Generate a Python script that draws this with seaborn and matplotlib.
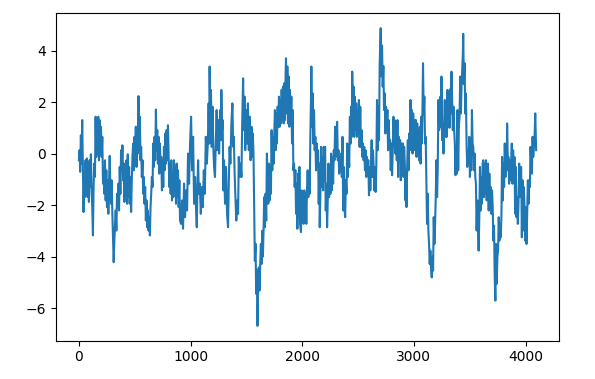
import matplotlib
matplotlib.use("Agg")
import matplotlib.pyplot as plt
import seaborn as sns
import pandas as pd

t = [0, 6, 12, 18, 24, 30, 36, 42, 48, 54, 60, 66, 72, 78, 84, 90, 96, 102, 108, 114,
     120, 126, 132, 138, 144, 150, 156, 162, 168, 174, 180, 186, 192, 198, 204, 210, 216, 222, 228, 234,
     240, 246, 252, 258, 264, 270, 276, 282, 288, 294, 300, 306, 312, 318, 324, 330, 336, 342, 348, 354,
     360, 366, 372, 378, 384, 390, 396, 402, 408, 414, 420, 426, 432, 438, 444, 450, 456, 462, 468, 474,
     480, 486, 492, 498, 504, 510, 516, 522, 528, 534, 540, 546, 552, 558, 564, 570, 576, 582, 588, 594,
     600, 606, 612, 618, 624, 630, 636, 642, 648, 654, 660, 666, 672, 678, 684, 690, 696, 702, 708, 714,
     720, 726, 732, 738, 744, 750, 756, 762, 768, 774, 780, 786, 792, 798, 804, 810, 816, 822, 828, 834,
     840, 846, 852, 858, 864, 870, 876, 882, 888, 894, 900, 906,
     915, 924, 933, 942, 951, 960, 969, 978, 987, 996, 1005, 1014, 1023, 1032, 1041, 1050, 1056, 1062, 1068, 1074,
     1083, 1092, 1101, 1110, 1119, 1128, 1137, 1146, 1155, 1162, 1168, 1171, 1177, 1183, 1190, 1197, 1204, 1211, 1219, 1226,
     1234, 1241, 1248, 1256, 1265, 1272, 1276, 1282, 1288, 1294, 1300, 1309, 1318, 1327, 1336, 1343, 1350, 1357, 1366, 1375,
     1382, 1388, 1394, 1402, 1410, 1418, 1426, 1432, 1440, 1448, 1456, 1462, 1471, 1477, 1484, 1490, 1498, 1506, 1514, 1522,
     1530, 1538, 1546, 1552, 1558, 1564, 1570, 1576, 1582, 1588, 1594, 1600, 1606, 1612, 1618, 1624, 1630, 1636, 1642, 1648,
     1654, 1660, 1666, 1672, 1678, 1684, 1690, 1696, 1702, 1708, 1714, 1720, 1726, 1732, 1738, 1744, 1750, 1756, 1762, 1768,
     1774, 1780, 1786, 1792, 1798, 1804, 1810, 1816, 1822, 1828, 1834, 1840, 1846, 1852, 1855, 1861, 1867, 1873, 1879, 1885,
     1891, 1897, 1903, 1909, 1915, 1921, 1927, 1933, 1939, 1945, 1951, 1957, 1963, 1969, 1975, 1981,
     1989, 1995, 2001, 2007, 2013, 2019, 2025, 2031, 2037, 2043, 2049, 2055, 2061, 2067, 2073, 2079, 2082, 2088, 2094, 2100,
     2106, 2112, 2118, 2124, 2130, 2136, 2142, 2148, 2154, 2157, 2163, 2169, 2175, 2181, 2187, 2193, 2199, 2205, 2211, 2217,
     2223, 2229, 2235, 2241, 2247, 2253, 2259, 2265, 2271, 2277, 2283, 2289, 2295, 2301, 2307, 2313, 2319, 2325, 2331, 2337,
     2343, 2349, 2355, 2361, 2367, 2373, 2379, 2385, 2391, 2397, 2403, 2409, 2415, 2421, 2427, 2433, 2439, 2445, 2448, 2454,
     2460, 2466, 2472, 2478, 2484, 2490, 2496, 2502, 2508, 2514, 2520, 2526, 2532, 2538, 2544, 2550, 2556, 2562, 2568, 2574,
     2580, 2586, 2592, 2598, 2604, 2610, 2616, 2622, 2628, 2634, 2640, 2646, 2652, 2658, 2664, 2670, 2676, 2682, 2688, 2694,
     2700, 2703, 2709, 2715, 2721, 2727, 2733, 2739, 2745, 2751, 2757, 2763, 2769, 2775, 2781, 2787, 2793, 2799, 2805, 2811,
     2817, 2823, 2829, 2835, 2841, 2847, 2853, 2859, 2865, 2871, 2877, 2883, 2889, 2895, 2901, 2907, 2913, 2919, 2925, 2931,
     2934, 2940, 2946, 2952, 2958, 2964, 2970, 2976, 2982, 2988, 2994, 3000, 3006, 3012, 3018, 3024, 3030, 3036, 3042, 3048,
     3054, 3060,
     3066, 3072, 3078, 3082, 3088, 3094, 3100, 3106, 3112, 3118, 3124, 3130, 3136, 3142, 3148, 3154, 3160, 3166, 3172, 3178,
     3184, 3190, 3196, 3202, 3208, 3214, 3220, 3226, 3232, 3238, 3244, 3247, 3253, 3259, 3265, 3271, 3277, 3283, 3289, 3295,
     3301, 3307, 3313, 3319, 3325, 3331, 3337, 3343, 3349, 3355, 3361, 3367, 3373, 3379, 3385, 3391, 3397, 3403, 3409, 3415,
     3421, 3427, 3433, 3439, 3442, 3448, 3454, 3460, 3466, 3472, 3478, 3484, 3490, 3496, 3502, 3508, 3514, 3520, 3526, 3532,
     3538, 3544, 3550, 3556, 3562, 3568, 3574, 3580, 3586, 3592, 3598, 3604, 3610, 3616, 3622, 3628, 3634, 3640, 3646, 3652,
     3658, 3664, 3670, 3676, 3682, 3688, 3694, 3700, 3706, 3712, 3718, 3724, 3730, 3736, 3742, 3748, 3754, 3760, 3766, 3772,
     3778, 3784, 3790, 3796, 3802, 3808, 3814, 3820, 3826, 3832, 3835, 3841, 3847, 3853, 3859, 3865, 3871, 3877, 3883, 3889,
     3895, 3901, 3907, 3913, 3919, 3925, 3931, 3937, 3943, 3949, 3955, 3961, 3967, 3973, 3979, 3985, 3991, 3997, 4003, 4009,
     4015, 4021, 4027, 4033, 4039, 4045, 4051, 4057, 4063, 4069, 4075, 4081, 4087, 4093, 4095]

v = [-0.26, 0.13, -0.71, 0.71, -0.39, 1.30, -0.52, -2.27, -0.91, -1.69, -0.26, -1.56, -0.19, -1.69, -0.39, -1.88, -0.26, -1.30, -0.03, -1.43,
     -2.08, -3.18, -1.30, -0.39, -0.91, 1.43, -0.13, 1.30, 0.00, 1.43, -0.26, 1.30, 0.00, 1.04, -0.13, 0.65, -1.17, -0.52, -1.56, -0.26,
     -1.82, -0.65, -2.08, -1.04, -2.34, -1.17, -0.09, -1.30, -1.95, -1.04, -2.34, -3.25, -4.22, -3.38, -2.73, -2.21, -2.99, -1.56, -2.08, -1.17,
     -2.21, -0.52, -1.56, 0.13, -0.65, 0.32, -1.04, -0.39, -1.88, -0.52, -1.43, -0.26, -1.95, -0.03, -1.69, -0.52, -1.95, -0.91, -2.27, -1.04,
     -0.13, 0.39, -0.65, 0.65, -0.26, 1.04, -0.52, 0.91, 0.00, 2.23, 0.13, 1.43, -0.26, 0.26, -0.91, -0.26, -1.56, -0.91, -1.95, -1.30,
     -2.60, -1.82, -2.86, -2.21, -2.99, -2.47, -3.18, -2.08, -1.56, -0.91, -1.30, 0.39, -0.52, 0.65, -0.26, 1.71, 0.13, 0.91, -0.39, 0.65,
     -0.78, 0.39, -0.52, -0.13, -1.43, -0.26, -1.30, 0.26, -0.65, 0.78, -0.39, 0.91, -0.26, 1.10, -0.13, -1.30, -0.39, -1.56, -0.26, -1.82,
     -0.78, -1.69, -0.26, -1.43, -0.52, -1.95, -0.39, -1.69, -0.65, -2.08, -1.04, -2.60,
     -2.73, -1.82, -2.92, -1.17, -2.47, -1.43, -2.21, 0.00, -1.17, 0.39, 1.43, -0.65, 0.65, -1.95, -0.91, -2.21, -2.86, -1.30, -0.26, -1.56,
     -1.17, -2.34, -1.30, -2.08, -0.65, -1.56, 0.65, -0.39, 0.39, 1.95, 0.39, 3.38, 1.04, 2.47, 0.26, 1.82, 0.26, -0.52, -0.91, 0.39,
     1.69, 0.13, 1.30, 0.00, 1.69, 0.52, 2.47, 0.91, 1.30, -1.43, -0.26, -1.95, -0.52, -2.34, -2.86, -1.04, 0.26, -0.39, 1.17, 1.95,
     0.26, 0.65, -0.65, -1.69, -2.60, -1.82, -2.34, -0.13, -0.91, -0.39, -0.91, 1.04, 2.92, 0.91, 2.21, 0.13, 1.69, 0.39, 1.95, 0.13,
     1.43, -0.26, 1.04, -0.13, 0.78, 0.00, -2.00, -4.16, -3.50, -5.45, -4.50, -6.69, -5.06, -4.42, -5.32, -4.29, -3.51, -4.29, -3.00, -4.00,
     -2.99, -1.69, -2.86, -1.56, -2.60, 0.00, -0.90, -1.95, -0.39, -1.82, -0.50, -1.56, 0.91, -0.65, 0.65, -0.39, 0.78, 1.69, 0.13, 1.56,
     0.39, 1.82, 1.04, 2.21, 1.04, 2.08, 1.17, 2.47, 1.30, 2.60, 1.17, 2.73, 1.30, 3.20, 3.70, 1.56, 3.38, 1.17, 3.00, 1.04,
     2.47, 1.17, 2.21, 0.39, 1.69, -0.65, -0.39, -1.30, -0.65, -2.34, -1.17, -2.92, -0.78, -2.47, -0.52, -2.73,
     -3.05, -1.43, -2.60, -1.56, -2.73, -1.43, -2.47, -1.56, -2.73, -1.43, -0.65, -1.69, -0.91, -1.56, 0.65, 2.20, 3.38, 1.04, 2.34, 0.39,
     1.69, 0.13, 0.65, -0.65, 0.39, -0.52, 0.13, -1.95, -0.39, -2.86, -1.56, 0.26, -1.30, -0.13, -1.43, 0.26, -1.04, 0.26, -2.21, -1.17,
     -2.86, -1.82, -0.39, -1.69, -0.52, -1.56, 0.00, -1.43, -0.13, -1.17, 0.13, -0.26, 1.04, -0.13, 0.78, 1.23, -0.26, 0.13, -0.78, -0.13,
     -0.65, 0.00, -0.91, 0.65, -2.21, -0.52, -2.08, -2.47, -1.04, -1.56, 0.39, -0.91, 0.13, -0.52, 1.43, 0.39, 1.82, 0.65, 3.18, 1.30,
     2.60, 0.65, 2.21, 0.91, 1.95, 0.65, 1.69, 0.78, 2.08, 0.26, 1.82, 0.26, 0.91, -0.13, 0.39, -0.26, 0.26, -0.65, 0.13, -0.91,
     -0.13, -0.65, -0.26, -1.62, -0.52, -1.43, -0.39, 0.52, -0.91, 0.13, -0.52, -1.43, -0.52, -1.49, -0.39, 2.08, 0.13, 1.82, 0.52, 3.50,
     4.50, 4.87, 3.00, 4.20, 2.60, 3.40, 1.69, 2.34, 0.78, 1.82, 0.91, 1.69, 0.13, 1.30, 0.26, 0.52, -0.65, 0.39, -0.84, 0.13,
     1.43, 0.26, 1.30, 0.00, 1.17, -0.26, 1.30, -0.91, 0.65, -0.26, 0.52, -1.04, 0.39, -0.65, 0.39, -0.91, 0.26, -0.39, -1.82, -0.65,
     -2.08, -0.52, 0.52, -0.65, 0.78, 0.13, 2.08, 0.52, 1.69, 0.00, 1.56, 0.13, 1.30, 0.26, 1.30, -0.13, 1.17, 0.00, 0.91, -0.26,
     1.04, -0.39,
     1.43, 0.39, 2.00, 3.51, 1.50, 2.21, 0.39, 0.65, -1.00, -2.73, -1.56, -2.99, -3.50, -4.29, -3.77, -4.42, -4.81, -4.00, -4.55, -2.47,
     -3.51, -2.73, -1.69, -0.26, -1.69, -0.52, 2.08, 0.91, 1.17, 2.21, 1.04, 2.99, 0.52, 1.17, 0.00, 1.17, 2.08, 0.65, 1.95, 0.65,
     2.47, 1.30, 1.95, 1.00, 2.50, 1.56, 3.18, 1.95, 0.91, 1.82, 0.91, 0.39, -0.84, 0.26, -0.78, 1.69, -0.65, 1.04, 1.43, 2.99,
     1.56, 2.60, 3.30, 3.90, 4.65, 2.70, 3.51, 1.56, 2.34, 0.39, -0.52, 0.13, -0.39, 0.65, -0.91, 0.39, -0.65, 1.69, 0.39, 0.26,
     -0.65, 0.00, -0.91, -1.17, -2.99, -1.82, -2.73, -3.77, -2.50, -0.52, -2.21, -0.91, -1.95, -0.39, -0.26, -1.69, -0.39, -1.56, -0.26, -1.82,
     -0.65, -0.39, -2.21, -0.78, -1.95, -1.30, -2.34, -1.43, -2.08, -3.38, -2.80, -4.80, -5.71, -3.51, -5.06, -4.00, -3.77, -2.47, -3.38, -2.73,
     -3.25, -2.47, -0.13, -1.82, -0.39, -1.30, 0.39, -0.91, 0.13, -0.65, 1.17, -0.26, -0.13, -1.17, -0.26, -1.04, -0.39, 0.39, -1.17, 0.13,
     -1.04, -0.13, -2.34, -0.52, -2.47, -1.69, -2.73, -1.95, -0.39, -1.69, -0.52, -0.52, -3.25, -1.04, -2.99, -1.30, -2.08, -3.38, -2.08, -3.51,
     -2.21, -1.04, -1.95, -1.04, -1.30, 0.26, -0.52, -0.78, 0.65, -0.13, 0.26, 0.65, 1.56, 0.39, 0.13]

df = pd.DataFrame({"t": t, "v": v})

fig = plt.figure(figsize=(5.95, 3.79), dpi=100)
ax = fig.add_axes([0.0941, 0.101, 0.8454, 0.864])
sns.lineplot(data=df, x="t", y="v", ax=ax, color="#1f77b4", linewidth=1.5,
             estimator=None, sort=False)
ax.set_xlabel("")
ax.set_ylabel("")
ax.set_xticks([0, 1000, 2000, 3000, 4000])
ax.set_yticks([-6, -4, -2, 0, 2, 4])
fig.savefig("out.png", dpi=100)
